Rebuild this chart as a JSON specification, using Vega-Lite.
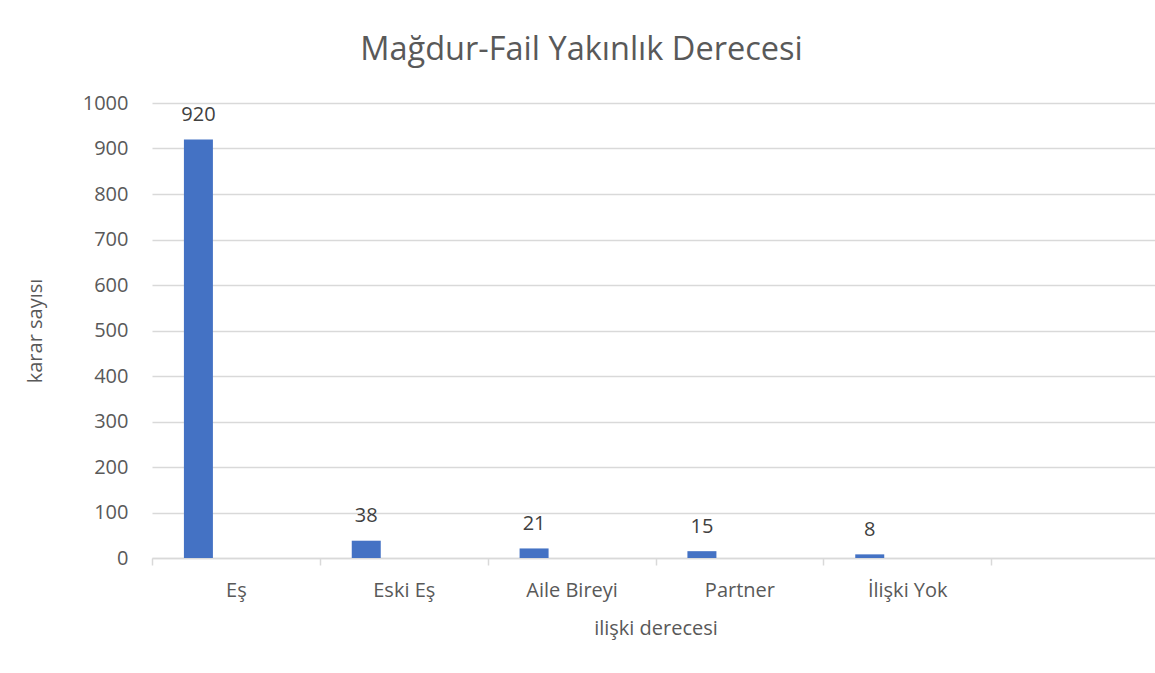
{
  "$schema": "https://vega.github.io/schema/vega-lite/v6.json",
  "autosize": "none",
  "width": 1003,
  "height": 455,
  "padding": {"left": 152, "top": 103, "right": 0, "bottom": 115},
  "background": "white",
  "config": {
    "font": "Open Sans",
    "view": {"stroke": null},
    "axis": {"labelColor": "#595959", "titleColor": "#595959", "labelFont": "Open Sans", "titleFont": "Open Sans", "labelFontSize": 20, "titleFontSize": 20, "titleFontWeight": "normal"}
  },
  "title": {
    "text": "Mağdur-Fail Yakınlık Derecesi",
    "font": "Open Sans",
    "fontSize": 32.5,
    "fontWeight": "normal",
    "color": "#595959",
    "anchor": "middle",
    "frame": "group",
    "dx": -72,
    "baseline": "bottom",
    "offset": -6
  },
  "data": {
    "values": [
      {"iliski": "Eş", "karar": 920},
      {"iliski": "Eski Eş", "karar": 38},
      {"iliski": "Aile Bireyi", "karar": 21},
      {"iliski": "Partner", "karar": 15},
      {"iliski": "İlişki Yok", "karar": 8}
    ]
  },
  "encoding": {
    "x": {
      "field": "iliski",
      "type": "nominal",
      "sort": null,
      "scale": {"domain": ["Eş", "Eski Eş", "Aile Bireyi", "Partner", "İlişki Yok", ""], "range": [0, 1007], "paddingInner": 0, "paddingOuter": 0},
      "axis": {
        "title": "ilişki derecesi",
        "labelAngle": 0,
        "domainColor": "#d9d9d9",
        "domainWidth": 1.5,
        "tickColor": "#d9d9d9",
        "tickWidth": 1.5,
        "tickSize": 7,
        "tickBand": "extent",
        "labelPadding": 15,
        "titlePadding": 18,
        "grid": false
      }
    },
    "y": {
      "field": "karar",
      "type": "quantitative",
      "scale": {"domain": [0, 1000], "nice": false},
      "axis": {
        "title": "karar sayısı",
        "values": [0, 100, 200, 300, 400, 500, 600, 700, 800, 900, 1000],
        "format": "d",
        "domain": false,
        "ticks": false,
        "tickSize": 0,
        "labelPadding": 24,
        "titlePadding": 37,
        "gridColor": "#d9d9d9",
        "gridWidth": 1.3
      }
    }
  },
  "layer": [
    {
      "mark": {"type": "bar", "color": "#4472C4", "width": 29, "xOffset": -37.5}
    },
    {
      "mark": {"type": "text", "xOffset": -37.5, "dy": -18.5, "baseline": "alphabetic", "font": "Open Sans", "fontSize": 20, "color": "#404040"},
      "encoding": {"text": {"field": "karar", "type": "quantitative"}}
    }
  ]
}
